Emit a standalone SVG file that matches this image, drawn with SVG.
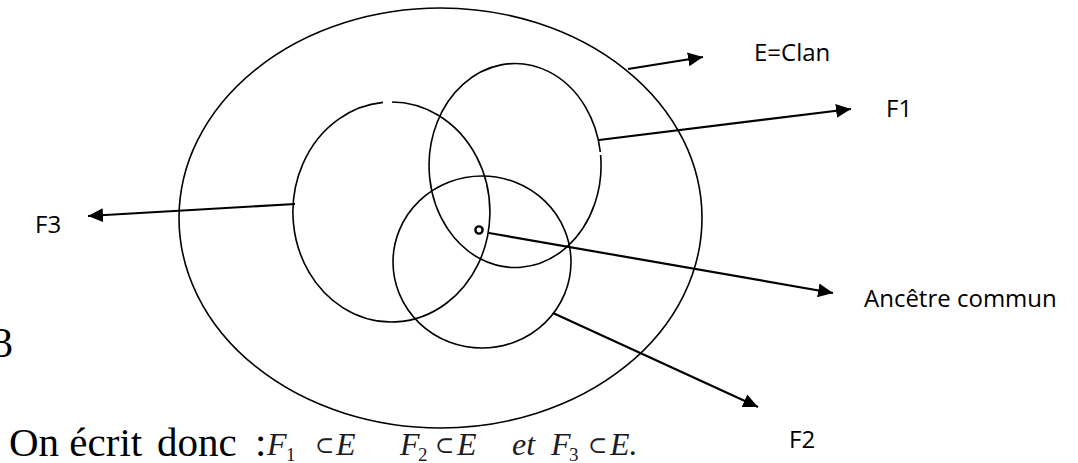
<svg xmlns="http://www.w3.org/2000/svg" width="1078" height="463" viewBox="0 0 1078 463">
<style>
.set{fill:none;stroke:#000;stroke-width:1.6}
.conn{stroke:#000;stroke-width:2.2;fill:none}
.lbl{font-family:"Open Sans",sans-serif;font-size:24px;fill:#000}
.body{font-family:"Liberation Serif",serif;font-size:41px;fill:#000}
.math{font-family:"Liberation Serif","DejaVu Serif",serif;font-style:italic;font-size:32px;fill:#1b1b26}
.rel{font-family:"DejaVu Serif","Liberation Serif",serif;font-style:normal;font-size:23px}
.sub{font-size:19px;font-style:normal}
</style>
<defs>
<marker id="ah" markerUnits="userSpaceOnUse" markerWidth="16" markerHeight="14" refX="15" refY="7" orient="auto">
<path d="M0,0 L15,7 L0,14 Z" fill="#000"/>
</marker>
</defs>
<g id="E-clan">
<ellipse class="set" cx="440.5" cy="218" rx="261.5" ry="210"/>
</g>
<g id="F3">
<path class="set" d="M392,102 A98.5,110 0 1 1 383,102.4"/>
</g>
<g id="F1">
<path class="set" d="M600.6,155 A86,102 0 1 1 600.3,152"/>
</g>
<g id="F2">
<ellipse class="set" cx="482" cy="262" rx="89" ry="86"/>
</g>
<g id="ancetre">
<circle cx="479" cy="230" r="3.6" fill="#fff" stroke="#000" stroke-width="2.4"/>
</g>
<g id="connectors">
<line class="conn" x1="628" y1="69" x2="703" y2="57" marker-end="url(#ah)"/>
<line class="conn" x1="599" y1="140" x2="851" y2="109" marker-end="url(#ah)"/>
<line class="conn" x1="295" y1="204" x2="88" y2="216" marker-end="url(#ah)"/>
<line class="conn" x1="489" y1="233" x2="833" y2="293" marker-end="url(#ah)"/>
<line class="conn" x1="553" y1="313" x2="758" y2="407" marker-end="url(#ah)"/>
</g>
<g id="labels">
<text class="lbl" x="754" y="61">E=Clan</text>
<text class="lbl" x="886" y="117">F1</text>
<text class="lbl" x="35" y="233">F3</text>
<text class="lbl" x="864" y="307">Ancêtre commun</text>
<text class="lbl" x="789" y="448">F2</text>
</g>
<g id="caption">
<text class="body" x="-8" y="357" style="font-size:42px">3</text>
<text class="body" x="9" y="456">On écrit</text>
<text class="body" x="157" y="456">donc</text>
<text class="body" x="255" y="456">:</text>
<text class="math" y="455"><tspan x="267">F</tspan><tspan class="sub" x="286" y="461">1</tspan><tspan class="rel" x="315" y="453">⊂</tspan><tspan x="336" y="455">E</tspan><tspan x="400">F</tspan><tspan class="sub" x="418" y="461">2</tspan><tspan class="rel" x="435" y="453">⊂</tspan><tspan x="457" y="455">E</tspan><tspan x="512">et</tspan><tspan x="551">F</tspan><tspan class="sub" x="569" y="461">3</tspan><tspan class="rel" x="588" y="453">⊂</tspan><tspan x="610" y="455">E.</tspan></text>
</g>
</svg>
